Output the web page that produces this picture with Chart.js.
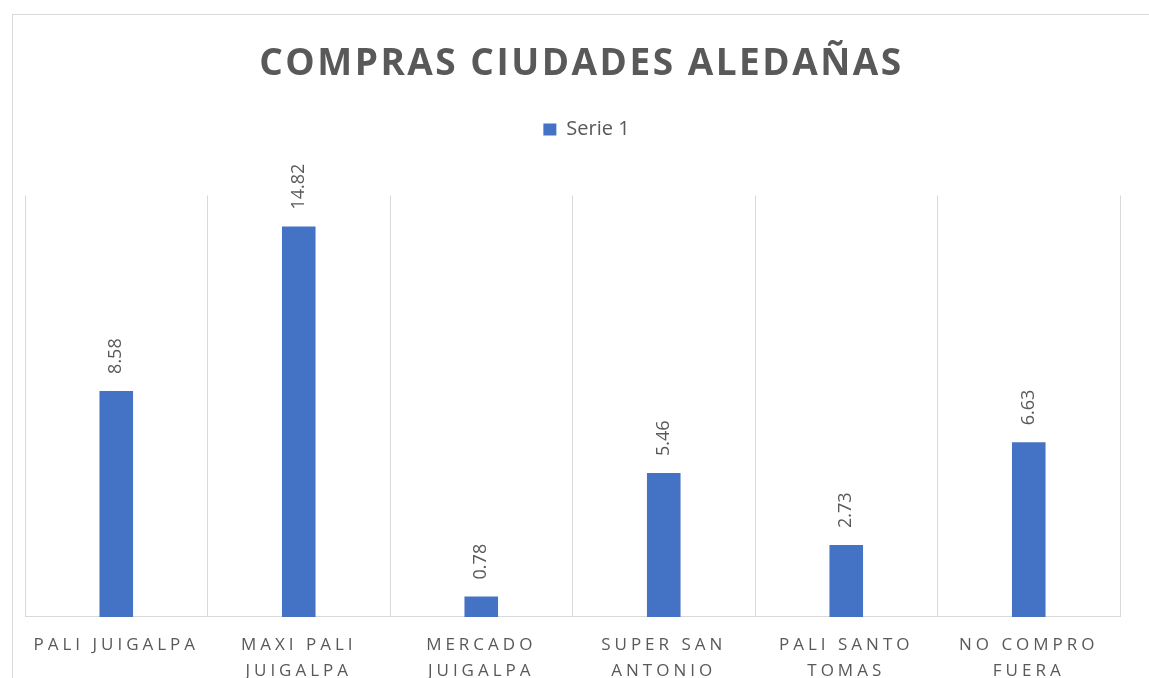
<!DOCTYPE html>
<html>
<head>
<meta charset="utf-8">
<script src="https://cdn.jsdelivr.net/npm/chart.js@4/dist/chart.umd.min.js"></script>
<style>
  html, body { margin: 0; padding: 0; background: #fff; overflow: hidden; }
  #frame { position: absolute; left: 12px; top: 14px; width: 1200px; height: 700px;
           border-left: 1px solid #d9d9d9; border-top: 1px solid #d9d9d9; }
  #wrap { position: absolute; left: 0; top: 0; width: 1149px; height: 699px; }
</style>
</head>
<body>
<div id="frame"></div>
<div id="wrap"><canvas id="chart"></canvas></div>
<script>
const categories = [
  ['PALI JUIGALPA'],
  ['MAXI PALI', 'JUIGALPA'],
  ['MERCADO', 'JUIGALPA'],
  ['SUPER SAN', 'ANTONIO'],
  ['PALI SANTO', 'TOMAS'],
  ['NO COMPRO', 'FUERA']
];
const values = [8.58, 14.82, 0.78, 5.46, 2.73, 6.63];
const seriesName = 'Serie 1';
const chartTitle = 'COMPRAS CIUDADES ALEDAÑAS';

const textGray = '#595959';
const gridGray = '#d9d9d9';
const barBlue = '#4472C4';

// canvas letter spacing (and a small nudge) for single drawing steps
function wrapDraw(chart, obj, fn, sp, dx) {
  if (!obj || obj['_sp_' + fn]) return;
  const orig = obj[fn];
  obj[fn] = function (...args) {
    const ctx = chart.ctx;
    ctx.save();
    ctx.letterSpacing = sp;
    ctx.translate(dx, 0);
    orig.apply(this, args);
    ctx.restore();
  };
  obj['_sp_' + fn] = true;
}

const spacingPlugin = {
  id: 'spacing',
  beforeDraw(chart) {
    wrapDraw(chart, chart.titleBlock, 'draw', '2.5px', 9);
    wrapDraw(chart, chart.legend, 'draw', '0px', 14);
    wrapDraw(chart, chart.scales.x, 'drawLabels', '4px', 0);
  }
};

// rotated value labels above each bar
const valueLabels = {
  id: 'valueLabels',
  afterDatasetsDraw(chart) {
    const ctx = chart.ctx;
    chart.getDatasetMeta(0).data.forEach((bar, i) => {
      ctx.save();
      ctx.translate(bar.x, bar.y - 17);
      ctx.rotate(-Math.PI / 2);
      ctx.font = '18px "Open Sans"';
      ctx.fillStyle = textGray;
      ctx.textAlign = 'left';
      ctx.textBaseline = 'middle';
      ctx.fillText(values[i].toFixed(2), 0, 0);
      ctx.restore();
    });
  }
};

const ctx = document.getElementById('chart').getContext('2d');
new Chart(ctx, {
  type: 'bar',
  data: {
    labels: categories,
    datasets: [{
      label: seriesName,
      data: values,
      backgroundColor: barBlue,
      categoryPercentage: 1,
      barPercentage: 0.184
    }]
  },
  options: {
    responsive: true,
    maintainAspectRatio: false,
    animation: false,
    layout: { padding: { top: 14, left: 25, right: 29, bottom: 0 } },
    plugins: {
      title: {
        display: true,
        text: chartTitle,
        color: textGray,
        font: { family: 'Open Sans', size: 37, weight: 'bold' },
        padding: { top: 28, bottom: 23 }
      },
      legend: {
        display: true,
        labels: {
          color: textGray,
          font: { family: 'Open Sans', size: 20 },
          boxWidth: 13,
          boxHeight: 12,
          padding: 10
        }
      },
      tooltip: { enabled: false }
    },
    scales: {
      x: {
        grid: { color: gridGray, drawTicks: false, offset: true },
        border: { color: gridGray },
        ticks: {
          color: textGray,
          font: { family: 'Open Sans', size: 17, lineHeight: 1.53 },
          padding: 15,
          maxRotation: 0,
          autoSkip: false
        }
      },
      x2: {
        position: 'top',
        grid: { display: false },
        border: { display: false },
        ticks: { display: false },
        afterFit: (scale) => { scale.height = 46; }
      },
      y: {
        display: false,
        min: 0,
        max: 16
      }
    }
  },
  plugins: [spacingPlugin, valueLabels]
});
</script>
</body>
</html>
